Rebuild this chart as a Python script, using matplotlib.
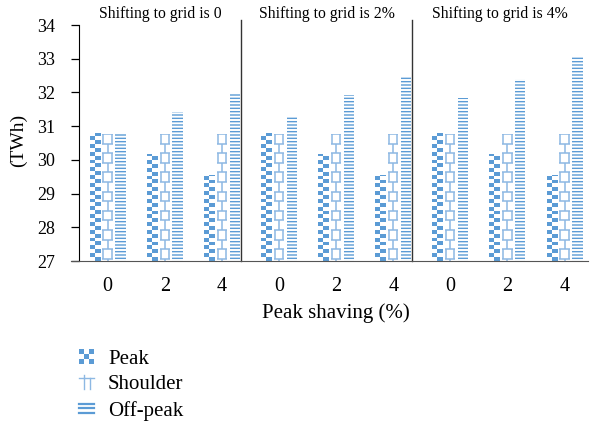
"""Peak / shoulder / off-peak energy under peak shaving, three grid-shifting cases."""
import matplotlib
import numpy as np

matplotlib.use("Agg")
import matplotlib.pyplot as plt
from matplotlib.collections import LineCollection
from matplotlib.colors import ListedColormap
from matplotlib.legend_handler import HandlerBase
from matplotlib.lines import Line2D
from matplotlib.patches import Patch, Rectangle

plt.rcParams["font.family"] = ["Liberation Serif", "DejaVu Serif"]
plt.rcParams["hatch.linewidth"] = 1.0

SECTIONS = ["Shifting to grid is 0", "Shifting to grid is 2%", "Shifting to grid is 4%"]
SHAVING = ["0", "2", "4"]
PEAK = [30.80, 30.17, 29.55, 30.80, 30.17, 29.55, 30.80, 30.17, 29.55]
SHOULDER = [30.77, 30.77, 30.77, 30.77, 30.77, 30.77, 30.77, 30.77, 30.77]
OFFPEAK = [30.77, 31.43, 31.97, 31.30, 31.92, 32.49, 31.83, 32.41, 33.06]

YMIN, YMAX = 27, 34
BLUE = "#5B9BD5"
LIGHT = "#8DB8E3"
W = 0.18
OFFS = [-0.225, 0.0, 0.225]

fig = plt.figure(figsize=(5.9, 4.23), dpi=100)
ax = fig.add_axes([79 / 590, 162 / 423, 509 / 590, 236 / 423])
x = np.arange(len(PEAK))

# peak: checkerboard image clipped to each bar
peak_bars = ax.bar(x + OFFS[0], np.array(PEAK) - YMIN, W, bottom=YMIN,
                   facecolor="none", edgecolor="none")
sq = 0.115
cmap = ListedColormap(["white", BLUE])
for b in peak_bars:
    rows = int(np.ceil(b.get_height() / sq))
    arr = (np.add.outer(np.arange(rows), np.arange(2)) % 2).astype(float)
    im = ax.imshow(arr, cmap=cmap, origin="lower", aspect="auto",
                   interpolation="nearest",
                   extent=(b.get_x(), b.get_x() + b.get_width(), YMIN, YMIN + rows * sq))
    im.set_clip_path(b)

# shoulder: brick pattern drawn as line segments
sh_bars = ax.bar(x + OFFS[1], np.array(SHOULDER) - YMIN, W, bottom=YMIN,
                 facecolor="none", edgecolor="none")
row_h = 0.285
for b in sh_bars:
    x0, x1 = b.get_x(), b.get_x() + b.get_width()
    top = YMIN + b.get_height()
    segs = []
    k = 0
    y = top
    while y > YMIN:
        y2 = max(y - row_h, YMIN)
        segs.append([(x0, y), (x1, y)])
        if k % 2 == 0:
            for f in (0.1, 0.9):
                xv = x0 + f * (x1 - x0)
                segs.append([(xv, y), (xv, y2)])
        else:
            xv = (x0 + x1) / 2
            segs.append([(xv, y), (xv, y2)])
        y = y2
        k += 1
    lc = LineCollection(segs, colors=LIGHT, linewidths=1.1)
    ax.add_collection(lc)
    lc.set_clip_path(b)

# off-peak: dense horizontal hatch
ax.bar(x + OFFS[2], np.array(OFFPEAK) - YMIN, W, bottom=YMIN,
       facecolor="white", edgecolor=BLUE, linewidth=0, hatch="-----")

ax.set_xlim(-0.5, 8.41)
ax.set_ylim(YMIN, YMAX)
ax.set_yticks(range(YMIN, YMAX + 1))
ax.set_xticks(x)
ax.set_xticklabels(SHAVING * 3)
ax.tick_params(axis="y", direction="out", length=6, width=0.9, pad=11, labelsize=13)
ax.tick_params(axis="x", length=0, pad=11.5, labelsize=14.5)
for s in ("top", "right"):
    ax.spines[s].set_visible(False)
ax.spines["left"].set_color("black")
ax.spines["bottom"].set_color("#555555")
ax.spines["bottom"].set_bounds(-0.64, 8.41)

# section separators and titles
edges = [-0.5]
for i in (2, 5):
    sx = i + OFFS[2] + W / 2 + 0.02
    edges.append(sx)
    ax.plot([sx, sx], [YMIN, YMAX + 0.15], color="#333333", lw=1.0, clip_on=False)
edges.append(8.41)
for j, title in enumerate(SECTIONS):
    ax.text((edges[j] + edges[j + 1]) / 2, 1.047, title, transform=ax.get_xaxis_transform(),
            ha="center", va="center", fontsize=11.3)

fig.text(18 / 590, 1 - 140 / 423, "(TWh)", rotation=90, ha="center", va="center", fontsize=14)
fig.text(336 / 590, 1 - 313 / 423, "Peak shaving (%)", ha="center", va="center", fontsize=15)


class CheckerHandler(HandlerBase):
    def create_artists(self, legend, orig_handle, xd, yd, width, height, fontsize, trans):
        out = []
        n = 3
        cw, ch = width / n, height / n
        for r in range(n):
            for c in range(n):
                fc = BLUE if (r + c) % 2 == 0 else "white"
                out.append(Rectangle((-xd + c * cw, -yd + r * ch), cw, ch,
                                     facecolor=fc, edgecolor="none", transform=trans))
        return out


class BrickHandler(HandlerBase):
    def create_artists(self, legend, orig_handle, xd, yd, width, height, fontsize, trans):
        x0, y0 = -xd, -yd
        top = y0 + height * 0.8
        out = [Line2D([x0, x0 + width], [top, top], color=LIGHT, lw=1.0, transform=trans)]
        for f in (0.3, 0.75):
            out.append(Line2D([x0 + f * width] * 2, [y0, top], color=LIGHT, lw=1.0, transform=trans))
        out.append(Line2D([x0 + 0.3 * width] * 2, [top, y0 + height], color=LIGHT, lw=1.0,
                          transform=trans))
        return out


class LinesHandler(HandlerBase):
    def create_artists(self, legend, orig_handle, xd, yd, width, height, fontsize, trans):
        out = []
        for f in (0.2, 0.5, 0.8):
            yy = -yd + f * height
            out.append(Line2D([-xd, -xd + width], [yy, yy], color=BLUE, lw=1.6, transform=trans))
        return out


h_peak, h_sh, h_off = Patch(), Patch(), Patch()
fig.legend([h_peak, h_sh, h_off], ["Peak", "Shoulder", "Off-peak"],
           handler_map={h_peak: CheckerHandler(), h_sh: BrickHandler(), h_off: LinesHandler()},
           loc="upper left", bbox_to_anchor=(79 / 590, 1 - 349 / 423),
           bbox_transform=fig.transFigure, frameon=False, fontsize=15,
           borderpad=0, borderaxespad=0, handlelength=0.72, handleheight=0.7,
           handletextpad=0.67, labelspacing=0.3)

fig.savefig("out.png", dpi=100)
